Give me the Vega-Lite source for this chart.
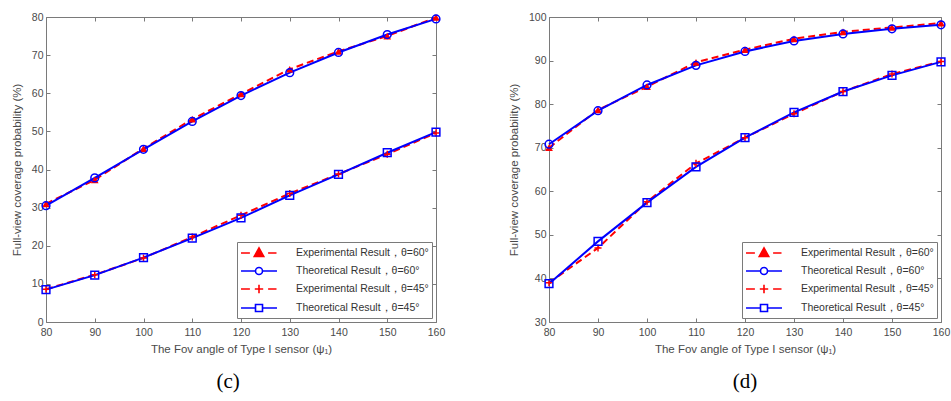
{
  "$schema": "https://vega.github.io/schema/vega-lite/v6.json",
  "padding": {"left": 10, "top": 11, "right": 0, "bottom": 0},
  "background": "white",
  "config": {
    "font": "Liberation Sans",
    "view": {"stroke": "#7a7a7a", "strokeWidth": 1},
    "axis": {
      "domain": false, "grid": false, "tickSize": -4, "tickColor": "#7a7a7a", "tickWidth": 1, "labelFlush": false, "labelOverlap": false,
      "labelFont": "Liberation Sans", "labelFontSize": 10.5, "labelColor": "#4a4a4a", "labelPadding": 9,
      "titleFont": "Liberation Sans", "titleFontSize": 11.5, "titleFontWeight": "normal", "titleColor": "#4a4a4a", "titlePadding": 6
    },
    "legend": {
      "orient": "bottom-right", "offset": 4, "padding": 3, "strokeColor": "#7a7a7a", "fillColor": "white",
      "labelFont": "Liberation Sans", "labelFontSize": 10.5, "labelColor": "#333333", "labelLimit": 400,
      "rowPadding": 3, "symbolSize": 196, "symbolOffset": 11, "labelOffset": 29, "cornerRadius": 0, "symbolOpacity": 1
    },
    "title": {"font": "Liberation Serif", "fontSize": 21, "fontWeight": "normal", "color": "#000000", "orient": "bottom", "offset": 16}
  },
  "data": {"values": [
    {"panel": "c", "series": "Experimental Result，θ=60°", "kind": "exp", "x": 80, "y": 31.0},
    {"panel": "c", "series": "Experimental Result，θ=60°", "kind": "exp", "x": 90, "y": 37.3},
    {"panel": "c", "series": "Experimental Result，θ=60°", "kind": "exp", "x": 100, "y": 45.5},
    {"panel": "c", "series": "Experimental Result，θ=60°", "kind": "exp", "x": 110, "y": 53.2},
    {"panel": "c", "series": "Experimental Result，θ=60°", "kind": "exp", "x": 120, "y": 59.8},
    {"panel": "c", "series": "Experimental Result，θ=60°", "kind": "exp", "x": 130, "y": 66.3},
    {"panel": "c", "series": "Experimental Result，θ=60°", "kind": "exp", "x": 140, "y": 71.0},
    {"panel": "c", "series": "Experimental Result，θ=60°", "kind": "exp", "x": 150, "y": 75.0},
    {"panel": "c", "series": "Experimental Result，θ=60°", "kind": "exp", "x": 160, "y": 79.9},
    {"panel": "c", "series": "Experimental Result，θ=45°", "kind": "exp", "x": 80, "y": 8.6},
    {"panel": "c", "series": "Experimental Result，θ=45°", "kind": "exp", "x": 90, "y": 12.4},
    {"panel": "c", "series": "Experimental Result，θ=45°", "kind": "exp", "x": 100, "y": 16.8},
    {"panel": "c", "series": "Experimental Result，θ=45°", "kind": "exp", "x": 110, "y": 22.3},
    {"panel": "c", "series": "Experimental Result，θ=45°", "kind": "exp", "x": 120, "y": 28.0},
    {"panel": "c", "series": "Experimental Result，θ=45°", "kind": "exp", "x": 130, "y": 33.7},
    {"panel": "c", "series": "Experimental Result，θ=45°", "kind": "exp", "x": 140, "y": 38.8},
    {"panel": "c", "series": "Experimental Result，θ=45°", "kind": "exp", "x": 150, "y": 44.0},
    {"panel": "c", "series": "Experimental Result，θ=45°", "kind": "exp", "x": 160, "y": 49.6},
    {"panel": "c", "series": "Theoretical Result，θ=60°", "kind": "theo", "x": 80, "y": 30.5},
    {"panel": "c", "series": "Theoretical Result，θ=60°", "kind": "theo", "x": 90, "y": 37.8},
    {"panel": "c", "series": "Theoretical Result，θ=60°", "kind": "theo", "x": 100, "y": 45.3},
    {"panel": "c", "series": "Theoretical Result，θ=60°", "kind": "theo", "x": 110, "y": 52.6},
    {"panel": "c", "series": "Theoretical Result，θ=60°", "kind": "theo", "x": 120, "y": 59.4},
    {"panel": "c", "series": "Theoretical Result，θ=60°", "kind": "theo", "x": 130, "y": 65.4},
    {"panel": "c", "series": "Theoretical Result，θ=60°", "kind": "theo", "x": 140, "y": 70.7},
    {"panel": "c", "series": "Theoretical Result，θ=60°", "kind": "theo", "x": 150, "y": 75.4},
    {"panel": "c", "series": "Theoretical Result，θ=60°", "kind": "theo", "x": 160, "y": 79.5},
    {"panel": "c", "series": "Theoretical Result，θ=45°", "kind": "theo", "x": 80, "y": 8.5},
    {"panel": "c", "series": "Theoretical Result，θ=45°", "kind": "theo", "x": 90, "y": 12.3},
    {"panel": "c", "series": "Theoretical Result，θ=45°", "kind": "theo", "x": 100, "y": 16.9},
    {"panel": "c", "series": "Theoretical Result，θ=45°", "kind": "theo", "x": 110, "y": 22.0},
    {"panel": "c", "series": "Theoretical Result，θ=45°", "kind": "theo", "x": 120, "y": 27.3},
    {"panel": "c", "series": "Theoretical Result，θ=45°", "kind": "theo", "x": 130, "y": 33.2},
    {"panel": "c", "series": "Theoretical Result，θ=45°", "kind": "theo", "x": 140, "y": 38.7},
    {"panel": "c", "series": "Theoretical Result，θ=45°", "kind": "theo", "x": 150, "y": 44.4},
    {"panel": "c", "series": "Theoretical Result，θ=45°", "kind": "theo", "x": 160, "y": 49.8},
    {"panel": "d", "series": "Experimental Result，θ=60°", "kind": "exp", "x": 80, "y": 70.0},
    {"panel": "d", "series": "Experimental Result，θ=60°", "kind": "exp", "x": 90, "y": 78.7},
    {"panel": "d", "series": "Experimental Result，θ=60°", "kind": "exp", "x": 100, "y": 84.0},
    {"panel": "d", "series": "Experimental Result，θ=60°", "kind": "exp", "x": 110, "y": 89.6},
    {"panel": "d", "series": "Experimental Result，θ=60°", "kind": "exp", "x": 120, "y": 92.5},
    {"panel": "d", "series": "Experimental Result，θ=60°", "kind": "exp", "x": 130, "y": 95.0},
    {"panel": "d", "series": "Experimental Result，θ=60°", "kind": "exp", "x": 140, "y": 96.6},
    {"panel": "d", "series": "Experimental Result，θ=60°", "kind": "exp", "x": 150, "y": 97.6},
    {"panel": "d", "series": "Experimental Result，θ=60°", "kind": "exp", "x": 160, "y": 98.6},
    {"panel": "d", "series": "Experimental Result，θ=45°", "kind": "exp", "x": 80, "y": 39.0},
    {"panel": "d", "series": "Experimental Result，θ=45°", "kind": "exp", "x": 90, "y": 47.0},
    {"panel": "d", "series": "Experimental Result，θ=45°", "kind": "exp", "x": 100, "y": 57.6},
    {"panel": "d", "series": "Experimental Result，θ=45°", "kind": "exp", "x": 110, "y": 66.4},
    {"panel": "d", "series": "Experimental Result，θ=45°", "kind": "exp", "x": 120, "y": 72.3},
    {"panel": "d", "series": "Experimental Result，θ=45°", "kind": "exp", "x": 130, "y": 77.8},
    {"panel": "d", "series": "Experimental Result，θ=45°", "kind": "exp", "x": 140, "y": 82.9},
    {"panel": "d", "series": "Experimental Result，θ=45°", "kind": "exp", "x": 150, "y": 86.9},
    {"panel": "d", "series": "Experimental Result，θ=45°", "kind": "exp", "x": 160, "y": 89.8},
    {"panel": "d", "series": "Theoretical Result，θ=60°", "kind": "theo", "x": 80, "y": 70.8},
    {"panel": "d", "series": "Theoretical Result，θ=60°", "kind": "theo", "x": 90, "y": 78.5},
    {"panel": "d", "series": "Theoretical Result，θ=60°", "kind": "theo", "x": 100, "y": 84.4},
    {"panel": "d", "series": "Theoretical Result，θ=60°", "kind": "theo", "x": 110, "y": 88.9},
    {"panel": "d", "series": "Theoretical Result，θ=60°", "kind": "theo", "x": 120, "y": 92.1},
    {"panel": "d", "series": "Theoretical Result，θ=60°", "kind": "theo", "x": 130, "y": 94.5},
    {"panel": "d", "series": "Theoretical Result，θ=60°", "kind": "theo", "x": 140, "y": 96.1},
    {"panel": "d", "series": "Theoretical Result，θ=60°", "kind": "theo", "x": 150, "y": 97.3},
    {"panel": "d", "series": "Theoretical Result，θ=60°", "kind": "theo", "x": 160, "y": 98.2},
    {"panel": "d", "series": "Theoretical Result，θ=45°", "kind": "theo", "x": 80, "y": 38.8},
    {"panel": "d", "series": "Theoretical Result，θ=45°", "kind": "theo", "x": 90, "y": 48.5},
    {"panel": "d", "series": "Theoretical Result，θ=45°", "kind": "theo", "x": 100, "y": 57.4},
    {"panel": "d", "series": "Theoretical Result，θ=45°", "kind": "theo", "x": 110, "y": 65.6},
    {"panel": "d", "series": "Theoretical Result，θ=45°", "kind": "theo", "x": 120, "y": 72.3},
    {"panel": "d", "series": "Theoretical Result，θ=45°", "kind": "theo", "x": 130, "y": 78.1},
    {"panel": "d", "series": "Theoretical Result，θ=45°", "kind": "theo", "x": 140, "y": 82.9},
    {"panel": "d", "series": "Theoretical Result，θ=45°", "kind": "theo", "x": 150, "y": 86.6},
    {"panel": "d", "series": "Theoretical Result，θ=45°", "kind": "theo", "x": 160, "y": 89.7}
  ]},
  "spacing": 61,
  "resolve": {
    "scale": {"color": "independent", "y": "independent", "x": "independent"},
    "legend": {"color": "independent"}
  },
  "hconcat": [
    {
      "width": 390, "height": 305,
      "title": {"text": "(c)", "frame": "bounds", "anchor": "middle"},
      "transform": [{"filter": "datum.panel == 'c'"}],
      "resolve": {"axis": {"x": "independent", "y": "independent"}},
      "layer": [
        {
          "transform": [{"filter": "datum.kind == 'exp'"}],
          "mark": {"type": "line", "strokeWidth": 2, "strokeDash": [7, 4]},
          "encoding": {
            "x": {"field": "x", "type": "quantitative", "scale": {"domain": [80, 160], "nice": false}, "axis": {"orient": "bottom", "values": [80, 90, 100, 110, 120, 130, 140, 150, 160], "title": "The Fov angle of Type I sensor (ψ₁)"}},
            "y": {"field": "y", "type": "quantitative", "scale": {"domain": [0, 80], "nice": false}, "axis": {"orient": "left", "values": [0, 10, 20, 30, 40, 50, 60, 70, 80], "title": "Full-view coverage probability (%)", "labelPadding": 7, "titlePadding": 9}},
            "color": {"field": "series", "type": "nominal",
              "scale": {"domain": ["Experimental Result，θ=60°", "Theoretical Result，θ=60°", "Experimental Result，θ=45°", "Theoretical Result，θ=45°"], "range": ["#ff0000", "#0000ff", "#ff0000", "#0000ff"]},
              "legend": {"title": null,
                "encode": {"symbols": {"update": {
                  "shape": {"signal": "datum.index == 0 ? 'M-2.57,0H-1.3M1.3,0H2.5M0,-0.72L0.68,0.5H-0.68Z' : datum.index == 1 ? 'M-2.57,0H-0.5M0.5,0H2.57M0.5,0A0.5,0.5 0 1,1 -0.5,0A0.5,0.5 0 1,1 0.5,0Z' : datum.index == 2 ? 'M-2.57,0H-1.3M1.3,0H2.5M-0.6,0H0.6M0,-0.6V0.6' : 'M-2.57,0H-0.5M0.5,0H2.57M-0.5,-0.5H0.5V0.5H-0.5Z'"},
                  "stroke": {"signal": "datum.index % 2 == 0 ? '#ff0000' : '#0000ff'"},
                  "fill": {"signal": "datum.index == 0 ? '#ff0000' : 'transparent'"},
                  "strokeWidth": {"value": 1.6},
                  "strokeDash": {"value": []},
                  "opacity": {"value": 1}
                }}}
              }
            }
          }
        },
        {
          "transform": [{"filter": "datum.kind == 'theo'"}],
          "mark": {"type": "line", "strokeWidth": 2},
          "encoding": {
            "x": {"field": "x", "type": "quantitative", "axis": {"orient": "top", "values": [80, 90, 100, 110, 120, 130, 140, 150, 160], "labels": false, "title": null}},
            "y": {"field": "y", "type": "quantitative", "axis": {"orient": "right", "values": [0, 10, 20, 30, 40, 50, 60, 70, 80], "labels": false, "title": null}},
            "color": {"field": "series", "type": "nominal"}
          }
        },
        {
          "transform": [{"filter": "datum.series == 'Experimental Result，θ=60°'"}],
          "mark": {"type": "point", "shape": "triangle-up", "filled": true, "color": "#ff0000", "size": 60, "opacity": 1},
          "encoding": {"x": {"field": "x", "type": "quantitative", "axis": null}, "y": {"field": "y", "type": "quantitative", "axis": null}}
        },
        {
          "transform": [{"filter": "datum.series == 'Experimental Result，θ=45°'"}],
          "mark": {"type": "point", "shape": "M-1,0H1M0,-1V1", "filled": false, "color": "#ff0000", "strokeWidth": 1.5, "size": 50, "opacity": 1},
          "encoding": {"x": {"field": "x", "type": "quantitative", "axis": null}, "y": {"field": "y", "type": "quantitative", "axis": null}}
        },
        {
          "transform": [{"filter": "datum.series == 'Theoretical Result，θ=60°'"}],
          "mark": {"type": "point", "shape": "circle", "filled": false, "color": "#0000ff", "strokeWidth": 1.5, "size": 60, "opacity": 1},
          "encoding": {"x": {"field": "x", "type": "quantitative", "axis": null}, "y": {"field": "y", "type": "quantitative", "axis": null}}
        },
        {
          "transform": [{"filter": "datum.series == 'Theoretical Result，θ=45°'"}],
          "mark": {"type": "point", "shape": "square", "filled": false, "color": "#0000ff", "strokeWidth": 1.5, "size": 60, "opacity": 1},
          "encoding": {"x": {"field": "x", "type": "quantitative", "axis": null}, "y": {"field": "y", "type": "quantitative", "axis": null}}
        }
      ]
    },
    {
      "width": 392, "height": 305,
      "title": {"text": "(d)", "frame": "group", "anchor": "middle"},
      "transform": [{"filter": "datum.panel == 'd'"}],
      "resolve": {"axis": {"x": "independent", "y": "independent"}},
      "layer": [
        {
          "transform": [{"filter": "datum.kind == 'exp'"}],
          "mark": {"type": "line", "strokeWidth": 2, "strokeDash": [7, 4]},
          "encoding": {
            "x": {"field": "x", "type": "quantitative", "scale": {"domain": [80, 160], "nice": false}, "axis": {"orient": "bottom", "values": [80, 90, 100, 110, 120, 130, 140, 150, 160], "title": "The Fov angle of Type I sensor (ψ₁)"}},
            "y": {"field": "y", "type": "quantitative", "scale": {"domain": [30, 100], "nice": false, "zero": false}, "axis": {"orient": "left", "values": [30, 40, 50, 60, 70, 80, 90, 100], "title": "Full-view coverage probability (%)", "labelPadding": 7, "titlePadding": 9}},
            "color": {"field": "series", "type": "nominal",
              "scale": {"domain": ["Experimental Result，θ=60°", "Theoretical Result，θ=60°", "Experimental Result，θ=45°", "Theoretical Result，θ=45°"], "range": ["#ff0000", "#0000ff", "#ff0000", "#0000ff"]},
              "legend": {"title": null,
                "encode": {"symbols": {"update": {
                  "shape": {"signal": "datum.index == 0 ? 'M-2.57,0H-1.3M1.3,0H2.5M0,-0.72L0.68,0.5H-0.68Z' : datum.index == 1 ? 'M-2.57,0H-0.5M0.5,0H2.57M0.5,0A0.5,0.5 0 1,1 -0.5,0A0.5,0.5 0 1,1 0.5,0Z' : datum.index == 2 ? 'M-2.57,0H-1.3M1.3,0H2.5M-0.6,0H0.6M0,-0.6V0.6' : 'M-2.57,0H-0.5M0.5,0H2.57M-0.5,-0.5H0.5V0.5H-0.5Z'"},
                  "stroke": {"signal": "datum.index % 2 == 0 ? '#ff0000' : '#0000ff'"},
                  "fill": {"signal": "datum.index == 0 ? '#ff0000' : 'transparent'"},
                  "strokeWidth": {"value": 1.6},
                  "strokeDash": {"value": []},
                  "opacity": {"value": 1}
                }}}
              }
            }
          }
        },
        {
          "transform": [{"filter": "datum.kind == 'theo'"}],
          "mark": {"type": "line", "strokeWidth": 2},
          "encoding": {
            "x": {"field": "x", "type": "quantitative", "axis": {"orient": "top", "values": [80, 90, 100, 110, 120, 130, 140, 150, 160], "labels": false, "title": null}},
            "y": {"field": "y", "type": "quantitative", "axis": {"orient": "right", "values": [30, 40, 50, 60, 70, 80, 90, 100], "labels": false, "title": null}},
            "color": {"field": "series", "type": "nominal"}
          }
        },
        {
          "transform": [{"filter": "datum.series == 'Experimental Result，θ=60°'"}],
          "mark": {"type": "point", "shape": "triangle-up", "filled": true, "color": "#ff0000", "size": 60, "opacity": 1},
          "encoding": {"x": {"field": "x", "type": "quantitative", "axis": null}, "y": {"field": "y", "type": "quantitative", "axis": null}}
        },
        {
          "transform": [{"filter": "datum.series == 'Experimental Result，θ=45°'"}],
          "mark": {"type": "point", "shape": "M-1,0H1M0,-1V1", "filled": false, "color": "#ff0000", "strokeWidth": 1.5, "size": 50, "opacity": 1},
          "encoding": {"x": {"field": "x", "type": "quantitative", "axis": null}, "y": {"field": "y", "type": "quantitative", "axis": null}}
        },
        {
          "transform": [{"filter": "datum.series == 'Theoretical Result，θ=60°'"}],
          "mark": {"type": "point", "shape": "circle", "filled": false, "color": "#0000ff", "strokeWidth": 1.5, "size": 60, "opacity": 1},
          "encoding": {"x": {"field": "x", "type": "quantitative", "axis": null}, "y": {"field": "y", "type": "quantitative", "axis": null}}
        },
        {
          "transform": [{"filter": "datum.series == 'Theoretical Result，θ=45°'"}],
          "mark": {"type": "point", "shape": "square", "filled": false, "color": "#0000ff", "strokeWidth": 1.5, "size": 60, "opacity": 1},
          "encoding": {"x": {"field": "x", "type": "quantitative", "axis": null}, "y": {"field": "y", "type": "quantitative", "axis": null}}
        }
      ]
    }
  ]
}
